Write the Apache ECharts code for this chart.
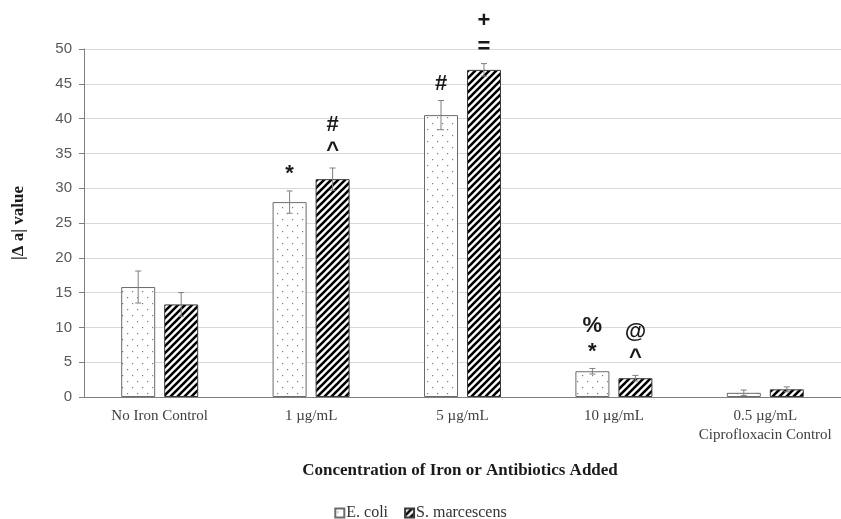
<!DOCTYPE html>
<html>
<head>
<meta charset="utf-8">
<script src="https://cdn.jsdelivr.net/npm/echarts@6/dist/echarts.min.js"></script>
<style>html,body{margin:0;padding:0;background:#fff}#c{width:841px;height:519px}</style>
</head>
<body>
<div id="c"></div>
<script>
// ---- data ----
var categories = ['No Iron Control', '1 \u00b5g/mL', '5 \u00b5g/mL', '10 \u00b5g/mL', '0.5 \u00b5g/mL\nCiprofloxacin Control'];
var ecoliValues = [15.8, 28.0, 40.5, 3.7, 0.6];
var ecoliErrors = [2.3, 1.6, 2.1, 0.4, 0.4];
var serratiaValues = [13.3, 31.3, 47.0, 2.7, 1.1];
var serratiaErrors = [1.7, 1.6, 0.9, 0.4, 0.35];
var ecoliMarks = ['', '*', '#', '%\n*', ''];
var serratiaMarks = ['', '#\n^', '+\n=', '@\n^', ''];
var yTicks = [0, 5, 10, 15, 20, 25, 30, 35, 40, 45, 50];

// ---- patterns ----
function dotPattern() {
  var c = document.createElement('canvas');
  c.width = 10; c.height = 12;
  var g = c.getContext('2d');
  g.fillStyle = '#fff'; g.fillRect(0, 0, 10, 12);
  g.fillStyle = '#7a7a7a';
  g.fillRect(2, 3, 1.2, 1.2);
  g.fillRect(7, 9, 1.2, 1.2);
  return c;
}
function stripePattern() {
  var s = 7;
  var c = document.createElement('canvas');
  c.width = s; c.height = s;
  var g = c.getContext('2d');
  g.fillStyle = '#fff'; g.fillRect(0, 0, s, s);
  g.strokeStyle = '#000'; g.lineWidth = 2.6;
  g.beginPath();
  g.moveTo(-1, s + 1); g.lineTo(s + 1, -1);
  g.moveTo(-2, 2); g.lineTo(2, -2);
  g.moveTo(s - 2, s + 2); g.lineTo(s + 2, s - 2);
  g.stroke();
  return c;
}

var SERIF = 'Liberation Serif, Times New Roman, serif';
var SANS = 'Liberation Sans, Arial, sans-serif';
var BAR_W = 34, GAP = 9;
var halfShift = (BAR_W + GAP) / 2;

function errorSeries(name, values, errors, marks, shift) {
  var data = values.map(function (v, i) { return [i, v, errors[i], marks[i]]; });
  return {
    type: 'custom',
    name: name + ' err',
    data: data,
    z: 10,
    silent: true,
    renderItem: function (params, api) {
      var i = api.value(0), v = api.value(1), e = data[params.dataIndex][2];
      var mark = data[params.dataIndex][3];
      var top = api.coord([i, v + e]);
      var bot = api.coord([i, v - e]);
      var x = top[0] + shift;
      var cap = 3;
      var children = [
        { type: 'line', shape: { x1: x, y1: top[1], x2: x, y2: bot[1] }, style: { stroke: '#7f7f7f', lineWidth: 1 } },
        { type: 'line', shape: { x1: x - cap, y1: top[1], x2: x + cap, y2: top[1] }, style: { stroke: '#7f7f7f', lineWidth: 1 } },
        { type: 'line', shape: { x1: x - cap, y1: bot[1], x2: x + cap, y2: bot[1] }, style: { stroke: '#7f7f7f', lineWidth: 1 } }
      ];
      if (mark) {
        children.push({
          type: 'text',
          style: {
            x: x, y: top[1] - 4, text: mark, align: 'center', verticalAlign: 'bottom',
            fontFamily: SANS, fontSize: 22, fontWeight: 'bold', lineHeight: 26, fill: '#1a1a1a'
          }
        });
      }
      return { type: 'group', children: children };
    }
  };
}

var chart = echarts.init(document.getElementById('c'), null, { renderer: 'canvas' });
chart.setOption({
  animation: false,
  backgroundColor: '#fff',
  grid: { left: 84, top: 49, width: 760, height: 348, containLabel: false },
  title: {
    text: 'Concentration of Iron or Antibiotics Added',
    left: 455, top: 457, textAlign: 'center',
    textStyle: { fontFamily: SERIF, fontSize: 17, fontWeight: 'bold', color: '#1a1a1a' }
  },
  graphic: [{
    type: 'text', x: 19, y: 223, rotation: Math.PI / 2,
    style: { text: '|\u0394 a| value', align: 'center', verticalAlign: 'middle',
      fontFamily: SERIF, fontSize: 17, fontWeight: 'bold', fill: '#1a1a1a' }
  }],
  legend: {
    top: 500, left: 'center', itemWidth: 9, itemHeight: 9, itemGap: 16,
    data: ['E. coli', 'S. marcescens'],
    textStyle: { fontFamily: SERIF, fontSize: 16, color: '#333', padding: [0, 0, 0, -3] },
    icon: 'rect'
  },
  xAxis: {
    type: 'category', data: categories,
    axisLine: { lineStyle: { color: '#7f7f7f', width: 1 } },
    axisTick: { show: false },
    axisLabel: { interval: 0, hideOverlap: false, margin: 10, fontFamily: SERIF, fontSize: 15, color: '#404040', lineHeight: 19 },
    splitLine: { show: false }
  },
  yAxis: {
    type: 'value', min: yTicks[0], max: yTicks[yTicks.length - 1], interval: yTicks[1] - yTicks[0],
    axisLine: { show: true, lineStyle: { color: '#7f7f7f', width: 1 } },
    axisTick: { show: true, length: 5, lineStyle: { color: '#7f7f7f' } },
    axisLabel: { margin: 12, fontFamily: SANS, fontSize: 15, color: '#595959' },
    splitLine: { lineStyle: { color: '#d9d9d9', width: 1 } }
  },
  series: [
    {
      name: 'E. coli', type: 'bar', data: ecoliValues, barWidth: BAR_W, barGap: (GAP / BAR_W * 100) + '%',
      itemStyle: { color: { image: dotPattern(), repeat: 'repeat' }, borderColor: '#6b6b6b', borderWidth: 1 }
    },
    {
      name: 'S. marcescens', type: 'bar', data: serratiaValues, barWidth: BAR_W,
      itemStyle: { color: { image: stripePattern(), repeat: 'repeat' }, borderColor: '#3a3a3a', borderWidth: 1 }
    },
    errorSeries('E. coli', ecoliValues, ecoliErrors, ecoliMarks, -halfShift),
    errorSeries('S. marcescens', serratiaValues, serratiaErrors, serratiaMarks, halfShift)
  ]
});
</script>
</body>
</html>
